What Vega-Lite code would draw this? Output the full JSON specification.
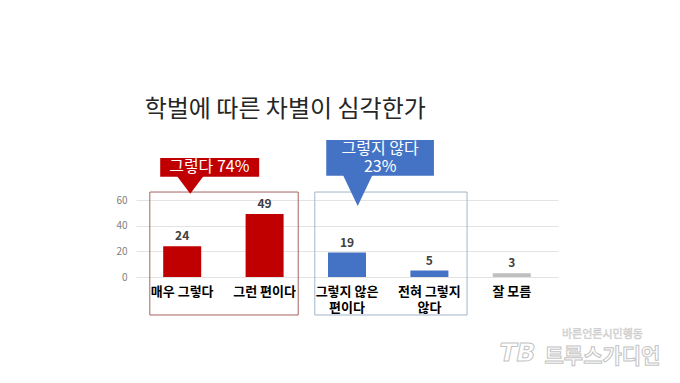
{
  "$schema": "https://vega.github.io/schema/vega-lite/v6.json",
  "width": 422,
  "height": 77,
  "autosize": {"type": "none"},
  "padding": {"left": 136, "top": 200, "right": 122, "bottom": 106},
  "background": "white",
  "config": {
    "view": {"stroke": null},
    "font": "Noto Sans CJK KR",
    "axisY": {"grid": true, "gridColor": "#e3e3e3", "domain": false, "ticks": false, "title": null, "labelFont": "Noto Sans CJK KR", "labelFontSize": 10, "labelColor": "#808080", "labelPadding": 9, "labelOverlap": false}
  },
  "datasets": {
    "responses": [
      {"응답": "매우 그렇다", "표시": "매우 그렇다", "순서": 0, "비율": 24, "그룹": "그렇다"},
      {"응답": "그런 편이다", "표시": "그런 편이다", "순서": 1, "비율": 49, "그룹": "그렇다"},
      {"응답": "그렇지 않은 편이다", "표시": "그렇지 않은\n편이다", "순서": 2, "비율": 19, "그룹": "그렇지 않다"},
      {"응답": "전혀 그렇지 않다", "표시": "전혀 그렇지\n않다", "순서": 3, "비율": 5, "그룹": "그렇지 않다"},
      {"응답": "잘 모름", "표시": "잘 모름", "순서": 4, "비율": 3, "그룹": "잘 모름"}
    ],
    "annotation": [{}]
  },
  "layer": [
    {
      "data": {"name": "responses"},
      "mark": {"type": "bar", "width": 38},
      "encoding": {
        "x": {
          "field": "순서",
          "type": "quantitative",
          "scale": {"domain": [-0.5, 4.5], "nice": false, "zero": false},
          "axis": null
        },
        "y": {
          "field": "비율",
          "type": "quantitative",
          "scale": {"domain": [0, 60], "nice": false},
          "axis": {"values": [0, 20, 40, 60]}
        },
        "color": {
          "field": "그룹",
          "type": "nominal",
          "scale": {"domain": ["그렇다", "그렇지 않다", "잘 모름"], "range": ["#C00000", "#4472C4", "#BFBFBF"]},
          "legend": null
        }
      }
    },
    {
      "data": {"name": "responses"},
      "mark": {"type": "text", "dy": -6, "baseline": "alphabetic", "fontSize": 12, "fontWeight": 600, "color": "#404040", "font": "Noto Sans CJK KR"},
      "encoding": {
        "x": {"field": "순서", "type": "quantitative", "axis": null},
        "y": {"field": "비율", "type": "quantitative", "axis": {"values": [0, 20, 40, 60]}},
        "text": {"field": "비율", "type": "quantitative"}
      }
    },
    {
      "data": {"name": "responses"},
      "mark": {"type": "text", "dy": 9, "baseline": "top", "align": "center", "lineBreak": "\n", "lineHeight": 16, "fontSize": 13, "fontWeight": "bold", "color": "#000000", "font": "Noto Sans CJK KR"},
      "encoding": {
        "x": {"field": "순서", "type": "quantitative", "axis": null},
        "y": {"datum": 0, "type": "quantitative", "axis": {"values": [0, 20, 40, 60]}},
        "text": {"field": "표시", "type": "nominal"}
      }
    },
    {
      "data": {"name": "annotation"},
      "mark": {"type": "text", "text": "학벌에 따른 차별이 심각한가", "color": "#262626", "fontSize": 24, "baseline": "alphabetic", "align": "left", "font": "Noto Sans CJK KR"},
      "encoding": {
        "x": {"datum": -0.455, "type": "quantitative", "axis": null},
        "y": {"datum": 124.7, "type": "quantitative", "axis": {"values": [0, 20, 40, 60]}}
      }
    },
    {
      "data": {"name": "annotation"},
      "mark": {"type": "rect", "fill": null, "stroke": "#A86262", "strokeWidth": 1},
      "encoding": {
        "x": {"datum": -0.393, "type": "quantitative", "axis": null},
        "x2": {"datum": 1.408},
        "y": {"datum": 66.2, "type": "quantitative", "axis": {"values": [0, 20, 40, 60]}},
        "y2": {"datum": -29.6}
      }
    },
    {
      "data": {"name": "annotation"},
      "mark": {"type": "rect", "fill": null, "stroke": "#A3B6C8", "strokeWidth": 1},
      "encoding": {
        "x": {"datum": 1.609, "type": "quantitative", "axis": null},
        "x2": {"datum": 3.457},
        "y": {"datum": 66.2, "type": "quantitative", "axis": {"values": [0, 20, 40, 60]}},
        "y2": {"datum": -29.6}
      }
    },
    {
      "data": {"name": "annotation"},
      "mark": {"type": "rect", "fill": "#C00000"},
      "encoding": {
        "x": {"datum": -0.267, "type": "quantitative", "axis": null},
        "x2": {"datum": 0.934},
        "y": {"datum": 92.7, "type": "quantitative", "axis": {"values": [0, 20, 40, 60]}},
        "y2": {"datum": 78.2}
      }
    },
    {
      "data": {"name": "annotation"},
      "mark": {"type": "point", "filled": true, "fill": "#C00000", "opacity": 1, "strokeWidth": 0, "shape": "M-1,-0.68L1,-0.68L0,0.65Z", "size": 729},
      "encoding": {
        "x": {"datum": 0.098, "type": "quantitative", "axis": null},
        "y": {"datum": 71.8, "type": "quantitative", "axis": {"values": [0, 20, 40, 60]}}
      }
    },
    {
      "data": {"name": "annotation"},
      "mark": {"type": "text", "text": "그렇다 74%", "color": "white", "fontSize": 16, "baseline": "middle", "align": "center", "font": "Noto Sans CJK KR"},
      "encoding": {
        "x": {"datum": 0.329, "type": "quantitative", "axis": null},
        "y": {"datum": 85.7, "type": "quantitative", "axis": {"values": [0, 20, 40, 60]}}
      }
    },
    {
      "data": {"name": "annotation"},
      "mark": {"type": "rect", "fill": "#4472C4"},
      "encoding": {
        "x": {"datum": 1.748, "type": "quantitative", "axis": null},
        "x2": {"datum": 3.055},
        "y": {"datum": 106.8, "type": "quantitative", "axis": {"values": [0, 20, 40, 60]}},
        "y2": {"datum": 78.9}
      }
    },
    {
      "data": {"name": "annotation"},
      "mark": {"type": "point", "filled": true, "fill": "#4472C4", "opacity": 1, "strokeWidth": 0, "shape": "M-1,-1.06L1,-1.06L0,1.03Z", "size": 900},
      "encoding": {
        "x": {"datum": 2.13, "type": "quantitative", "axis": null},
        "y": {"datum": 67.4, "type": "quantitative", "axis": {"values": [0, 20, 40, 60]}}
      }
    },
    {
      "data": {"name": "annotation"},
      "mark": {"type": "text", "text": ["그렇지 않다", "23%"], "lineHeight": 18, "color": "white", "fontSize": 16, "baseline": "middle", "align": "center", "font": "Noto Sans CJK KR"},
      "encoding": {
        "x": {"datum": 2.403, "type": "quantitative", "axis": null},
        "y": {"datum": 99.7, "type": "quantitative", "axis": {"values": [0, 20, 40, 60]}}
      }
    },
    {
      "data": {"name": "annotation"},
      "mark": {"type": "text", "text": "바른언론시민행동", "color": "#ffffff", "stroke": "#c9c9c9", "strokeWidth": 0.6, "fontSize": 11, "baseline": "middle", "align": "center", "font": "Noto Sans CJK KR"},
      "encoding": {
        "x": {"datum": 5.1, "type": "quantitative", "axis": null},
        "y": {"datum": -45.0, "type": "quantitative", "axis": {"values": [0, 20, 40, 60]}}
      }
    },
    {
      "data": {"name": "annotation"},
      "mark": {"type": "text", "text": "트루스가디언", "color": "#ffffff", "stroke": "#c4c4c4", "strokeWidth": 1, "fontSize": 21, "fontWeight": "bold", "baseline": "middle", "align": "center", "font": "Noto Sans CJK KR"},
      "encoding": {
        "x": {"datum": 5.1, "type": "quantitative", "axis": null},
        "y": {"datum": -62.0, "type": "quantitative", "axis": {"values": [0, 20, 40, 60]}}
      }
    },
    {
      "data": {"name": "annotation"},
      "mark": {"type": "text", "text": "TB", "color": "#ffffff", "stroke": "#c4c4c4", "strokeWidth": 1, "fontSize": 25, "fontWeight": "bold", "fontStyle": "italic", "baseline": "middle", "align": "center", "font": "DejaVu Sans"},
      "encoding": {
        "x": {"datum": 4.07, "type": "quantitative", "axis": null},
        "y": {"datum": -59.5, "type": "quantitative", "axis": {"values": [0, 20, 40, 60]}}
      }
    }
  ]
}
